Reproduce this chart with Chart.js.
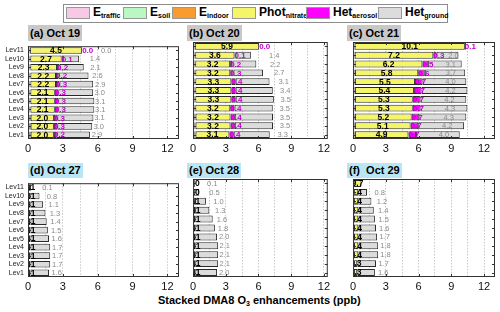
<!DOCTYPE html>
<html>
<head>
<meta charset="utf-8">
<script src="https://cdn.jsdelivr.net/npm/chart.js@4.4.1/dist/chart.umd.min.js"></script>
<style>
  body { margin: 0; background: #fff; font-family: 'Liberation Sans', Arial, sans-serif; }
  #page { position: relative; width: 500px; height: 312px; overflow: hidden; }
  canvas { position: absolute; }
  .legend { position: absolute; left: 63px; top: 4px; width: 383px; height: 17px; border: 1px solid #8c8c8c; background: #fff; }
  .legend .sw { position: absolute; top: 2px; width: 22px; height: 10px; border: 1px solid #999; }
  .legend .tx { position: absolute; top: 0px; font-weight: bold; font-size: 12px; line-height: 15px; color: #000; white-space: nowrap; }
  .legend sub, .xtitle sub { font-size: 7px; vertical-align: -2px; }
  .ptitle { position: absolute; font-weight: bold; font-size: 11px; color: #000; padding: 0 2px; white-space: pre; }
  .xtitle { position: absolute; left: 158px; top: 292px; font-weight: bold; font-size: 11px; line-height: 16px; white-space: nowrap; }
</style>
</head>
<body>
<div id="page">
  <div class="legend" id="legend"></div>
  <div class="xtitle">Stacked DMA8 O<sub>3</sub> enhancements (ppb)</div>
</div>
<script>
// --- Data ---
const levels = ['Lev11', 'Lev10', 'Lev9', 'Lev8', 'Lev7', 'Lev6', 'Lev5', 'Lev4', 'Lev3', 'Lev2', 'Lev1'];
const dayTitles = ['(a) Oct 19', '(b) Oct 20', '(c) Oct 21', '(d) Oct 27', '(e) Oct 28', '(f)  Oct 29'];
const xTickValues = [0, 3, 6, 9, 12];
const legendMain = ['E', 'E', 'E', 'Phot', 'Het', 'Het'];
const legendSub = ['traffic', 'soil', 'indoor', 'nitrate', 'aerosol', 'ground'];

// one row per panel (a..f), Lev11 -> Lev1
const eTraffic = [
  [0.10, 0.12, 0.12, 0.13, 0.13, 0.13, 0.13, 0.13, 0.14, 0.14, 0.14],
  [0.10, 0.12, 0.12, 0.13, 0.13, 0.13, 0.13, 0.13, 0.14, 0.14, 0.14],
  [0.08, 0.09, 0.09, 0.10, 0.10, 0.10, 0.10, 0.10, 0.10, 0.10, 0.10],
  [0.04, 0.05, 0.05, 0.05, 0.05, 0.05, 0.05, 0.05, 0.05, 0.05, 0.05],
  [0.03, 0.04, 0.04, 0.05, 0.05, 0.05, 0.05, 0.05, 0.05, 0.05, 0.05],
  [0.03, 0.04, 0.04, 0.05, 0.05, 0.05, 0.05, 0.05, 0.05, 0.05, 0.05]
];
const eSoil = [
  [0.02, 0.03, 0.03, 0.03, 0.03, 0.03, 0.03, 0.03, 0.03, 0.03, 0.03],
  [0.02, 0.03, 0.03, 0.03, 0.03, 0.03, 0.03, 0.03, 0.03, 0.03, 0.03],
  [0.02, 0.02, 0.02, 0.02, 0.02, 0.02, 0.02, 0.02, 0.02, 0.02, 0.02],
  [0.01, 0.01, 0.01, 0.01, 0.01, 0.01, 0.01, 0.01, 0.01, 0.01, 0.01],
  [0.01, 0.01, 0.01, 0.01, 0.01, 0.01, 0.01, 0.01, 0.01, 0.01, 0.01],
  [0.01, 0.01, 0.01, 0.01, 0.01, 0.01, 0.01, 0.01, 0.01, 0.01, 0.01]
];
const eIndoor = [
  [0.04, 0.05, 0.05, 0.05, 0.05, 0.05, 0.05, 0.05, 0.06, 0.06, 0.06],
  [0.04, 0.05, 0.05, 0.05, 0.05, 0.05, 0.05, 0.05, 0.06, 0.06, 0.06],
  [0.04, 0.04, 0.04, 0.05, 0.05, 0.05, 0.05, 0.05, 0.05, 0.05, 0.05],
  [0.02, 0.02, 0.02, 0.02, 0.02, 0.02, 0.02, 0.02, 0.02, 0.02, 0.02],
  [0.02, 0.02, 0.02, 0.02, 0.02, 0.02, 0.02, 0.02, 0.02, 0.02, 0.02],
  [0.02, 0.02, 0.02, 0.02, 0.02, 0.02, 0.02, 0.02, 0.02, 0.02, 0.02]
];
const photNitrate = [
  [4.5, 2.7, 2.3, 2.2, 2.2, 2.1, 2.1, 2.1, 2.0, 2.0, 2.0],
  [5.9, 3.6, 3.2, 3.2, 3.3, 3.3, 3.3, 3.2, 3.2, 3.2, 3.1],
  [10.1, 7.2, 6.2, 5.8, 5.5, 5.4, 5.3, 5.3, 5.2, 5.1, 4.9],
  [0.1, 0.1, 0.1, 0.1, 0.1, 0.1, 0.1, 0.1, 0.1, 0.1, 0.1],
  [0.0, 0.0, 0.1, 0.1, 0.1, 0.1, 0.1, 0.1, 0.1, 0.1, 0.1],
  [0.7, 0.4, 0.4, 0.4, 0.4, 0.4, 0.4, 0.4, 0.4, 0.3, 0.3]
];
const hetAerosol = [
  [0.0, 0.1, 0.2, 0.2, 0.3, 0.3, 0.3, 0.3, 0.3, 0.3, 0.2],
  [0.0, 0.1, 0.2, 0.3, 0.4, 0.4, 0.4, 0.4, 0.4, 0.4, 0.4],
  [0.1, 0.3, 0.5, 0.6, 0.7, 0.7, 0.7, 0.7, 0.7, 0.7, 0.7],
  [0.0, 0.01, 0.02, 0.02, 0.03, 0.03, 0.03, 0.03, 0.03, 0.03, 0.03],
  [0.0, 0.0, 0.01, 0.01, 0.02, 0.02, 0.02, 0.02, 0.02, 0.02, 0.02],
  [0.0, 0.01, 0.01, 0.02, 0.02, 0.02, 0.02, 0.02, 0.02, 0.02, 0.02]
];
const hetGround = [
  [0.0, 1.4, 2.1, 2.6, 2.9, 3.0, 3.1, 3.1, 3.1, 3.0, 2.9],
  [null, 1.4, 2.2, 2.7, 3.1, 3.4, 3.5, 3.5, 3.5, 3.5, 3.3],
  [null, 2.0, 3.1, 3.7, 4.0, 4.2, 4.2, 4.3, 4.3, 4.2, 4.0],
  [0.1, 0.8, 1.1, 1.3, 1.4, 1.5, 1.6, 1.7, 1.7, 1.7, 1.6],
  [0.1, 0.5, 1.0, 1.3, 1.6, 1.8, 2.0, 2.1, 2.1, 2.1, 2.0],
  [null, 0.8, 1.2, 1.4, 1.5, 1.6, 1.7, 1.8, 1.8, 1.7, 1.6]
];

const colors = ['#f8c8e4', '#b9f7c3', '#f99b2f', '#f5f56a', '#ff00ff', '#dcdcdc'];

// --- Layout of the six panels (plot box in page pixels) ---
const panels = [
  { L: 28,  T: 42,  R: 179, B: 139, xmax: 13,   yLabels: true,  aerLabels: true,  gShift: 24, titleTop: 25, titleBg: '#c8c8c8' },
  { L: 187, T: 42,  R: 329, B: 139, xmax: 12.35, yLabels: false, aerLabels: true,  gShift: 31, titleTop: 25, titleBg: '#c8c8c8' },
  { L: 347, T: 42,  R: 495, B: 139, xmax: 13,   yLabels: false, aerLabels: true,  gShift: 6,  titleTop: 25, titleBg: '#c8c8c8' },
  { L: 28,  T: 179, R: 179, B: 277, xmax: 13,   yLabels: true,  aerLabels: false, gShift: 17, titleTop: 163, titleBg: '#b9e6f5' },
  { L: 187, T: 179, R: 329, B: 277, xmax: 12.35, yLabels: false, aerLabels: false, gShift: 18, titleTop: 163, titleBg: '#b9e6f5' },
  { L: 347, T: 179, R: 495, B: 277, xmax: 13,   yLabels: false, aerLabels: false, gShift: 17, titleTop: 163, titleBg: '#b9e6f5' }
];

Chart.defaults.font.family = "'Liberation Sans', Arial, sans-serif";

// value labels + box and inward ticks (MATLAB look)
const panelDecor = {
  id: 'panelDecor',
  afterDatasetsDraw(chart, args, opts) {
    const ctx = chart.ctx;
    const ds = chart.data.datasets;
    const area = chart.chartArea;
    const phot = chart.getDatasetMeta(3).data;
    const aer = chart.getDatasetMeta(4).data;
    const gnd = chart.getDatasetMeta(5).data;
    ctx.save();
    ctx.textBaseline = 'middle';
    phot.forEach((bar, i) => {
      const y = bar.y + 0.5;
      // phot label is cut at the axis, like the original
      ctx.save();
      ctx.beginPath();
      ctx.rect(area.left + 1, area.top, area.right - area.left, area.bottom - area.top);
      ctx.clip();
      ctx.font = "bold 8.5px 'Liberation Sans', Arial";
      ctx.fillStyle = '#000';
      ctx.textAlign = 'center';
      ctx.fillText(ds[3].data[i].toFixed(1), (bar.x + bar.base) / 2, y);
      ctx.restore();
      if (opts.aerLabels) {
        ctx.font = "bold 8px 'Liberation Sans', Arial";
        ctx.fillStyle = '#c400d0';
        ctx.textAlign = 'left';
        ctx.fillText(ds[4].data[i].toFixed(1), aer[i].base, y);
      }
      const g = ds[5].data[i];
      if (g !== null && gnd[i]) {
        ctx.font = "7.5px 'Liberation Sans', Arial";
        ctx.fillStyle = '#8a8a8a';
        ctx.textAlign = 'center';
        ctx.fillText(g.toFixed(1), (gnd[i].x + gnd[i].base) / 2 + opts.gShift, y);
      }
    });
    ctx.restore();
  },
  afterDraw(chart) {
    const ctx = chart.ctx;
    const a = chart.chartArea;
    const xs = chart.scales.x, ys = chart.scales.y;
    ctx.save();
    ctx.strokeStyle = '#333';
    ctx.lineWidth = 1;
    ctx.strokeRect(a.left + 0.5, a.top + 0.5, a.right - a.left - 1, a.bottom - a.top - 1);
    ctx.beginPath();
    xTickValues.forEach(v => {
      const px = Math.round(xs.getPixelForValue(v)) + 0.5;
      ctx.moveTo(px, a.bottom); ctx.lineTo(px, a.bottom - 3);
      ctx.moveTo(px, a.top); ctx.lineTo(px, a.top + 3);
    });
    levels.forEach((l, i) => {
      const py = Math.round(ys.getPixelForValue(i)) + 0.5;
      ctx.moveTo(a.left, py); ctx.lineTo(a.left + 3, py);
      ctx.moveTo(a.right, py); ctx.lineTo(a.right - 3, py);
    });
    ctx.stroke();
    ctx.restore();
  }
};

const page = document.getElementById('page');

// --- Legend ---
const legendX = [2, 59, 108, 168, 242, 314];
const legend = document.getElementById('legend');
legendMain.forEach((m, i) => {
  const sw = document.createElement('div');
  sw.className = 'sw';
  sw.style.left = legendX[i] + 'px';
  sw.style.background = colors[i];
  legend.appendChild(sw);
  const tx = document.createElement('div');
  tx.className = 'tx';
  tx.style.left = (legendX[i] + 27) + 'px';
  tx.innerHTML = m + '<sub>' + legendSub[i] + '</sub>';
  legend.appendChild(tx);
});

// --- Panels ---
function makePanel(p, k) {
  const yw = p.yLabels ? 28 : 0;
  const padTop = 4, padRight = 4, xh = 20;
  const canvas = document.createElement('canvas');
  canvas.width = p.R - p.L + yw + padRight;
  canvas.height = p.B - p.T + padTop + xh;
  canvas.style.left = (p.L - yw) + 'px';
  canvas.style.top = (p.T - padTop) + 'px';
  page.appendChild(canvas);

  const series = [eTraffic, eSoil, eIndoor, photNitrate, hetAerosol, hetGround];
  new Chart(canvas.getContext('2d'), {
    type: 'bar',
    data: {
      labels: levels,
      datasets: series.map((s, j) => ({
        label: legendMain[j] + '_' + legendSub[j],
        data: s[k],
        backgroundColor: colors[j],
        borderColor: '#2a2a2a',
        borderWidth: 1,
        borderSkipped: false,
        barPercentage: 0.78,
        categoryPercentage: 1
      }))
    },
    options: {
      indexAxis: 'y',
      responsive: false,
      animation: false,
      layout: { padding: { top: padTop, right: padRight, left: 0, bottom: 0 } },
      plugins: {
        legend: { display: false },
        tooltip: { enabled: false },
        panelDecor: { aerLabels: p.aerLabels, gShift: p.gShift }
      },
      scales: {
        x: {
          stacked: true,
          min: 0,
          max: p.xmax,
          afterFit: s => { s.height = xh; },
          border: { display: false, dash: [1.5, 1.5] },
          grid: { color: '#bdbdbd', lineWidth: 0.8, drawTicks: false },
          ticks: {
            stepSize: 1.5,
            includeBounds: false,
            autoSkip: false,
            maxRotation: 0,
            padding: 3,
            color: '#111',
            font: { size: 11 },
            callback: v => (Math.abs(v % 3) < 1e-6 ? v : '')
          }
        },
        y: {
          stacked: true,
          afterFit: s => { s.width = yw; },
          border: { display: false },
          grid: { display: false, drawTicks: false },
          ticks: { display: p.yLabels, autoSkip: false, padding: 4, color: '#222', font: { size: 7 } }
        }
      }
    },
    plugins: [panelDecor]
  });

  const t = document.createElement('div');
  t.className = 'ptitle';
  t.textContent = dayTitles[k];
  t.style.left = p.L + 'px';
  t.style.top = p.titleTop + 'px';
  t.style.height = (p.titleTop < 100 ? 16 : 15) + 'px';
  t.style.lineHeight = (p.titleTop < 100 ? 16 : 15) + 'px';
  t.style.background = p.titleBg;
  page.appendChild(t);
}

panels.forEach(makePanel);
</script>
</body>
</html>
